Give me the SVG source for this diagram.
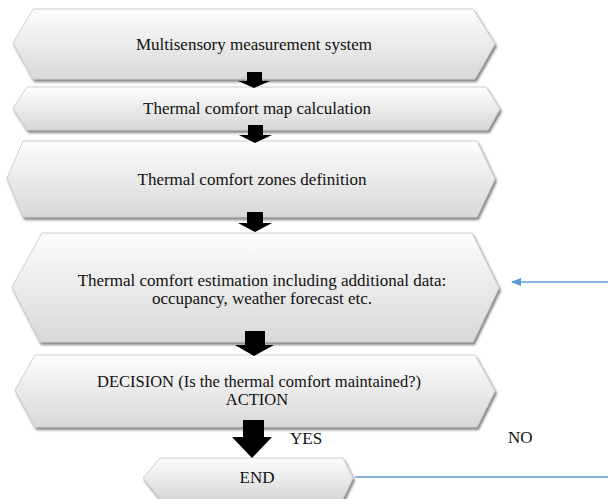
<svg xmlns="http://www.w3.org/2000/svg" width="608" height="499" viewBox="0 0 608 499">
  <defs>
    <linearGradient id="g" x1="0" y1="0" x2="0" y2="1">
      <stop offset="0" stop-color="#fdfdfd"/>
      <stop offset="1" stop-color="#d8d8d8"/>
    </linearGradient>
    <filter id="sh" x="-5%" y="-10%" width="110%" height="130%">
      <feDropShadow dx="1.5" dy="2.5" stdDeviation="0.8" flood-color="#6e6e6e" flood-opacity="0.85"/>
    </filter>
    <marker id="ah" markerWidth="10" markerHeight="8" refX="9" refY="4" orient="auto" markerUnits="userSpaceOnUse">
      <path d="M0,0 L10,4 L0,8 Z" fill="#5b9bd5"/>
    </marker>
  </defs>
  <style>
    .box { fill: url(#g); stroke: #cfcfcf; stroke-width: 1; filter: url(#sh); }
    .t { font-family: "Liberation Serif", "Times New Roman", serif; font-size: 17px; fill: #111; text-anchor: middle; }
    .t2 { font-size: 16.5px; }
    .lbl { font-family: "Liberation Serif", "Times New Roman", serif; font-size: 17px; fill: #111; }
    .blk { fill: #000; }
    .blue { stroke: #5b9bd5; stroke-width: 1.3; fill: none; }
  </style>

  <g id="node-measurement">
    <polygon class="box" points="33,9 473,9 495,44 475,79 33,79 13,43"/>
    <text class="t" x="254" y="50">Multisensory measurement system</text>
  </g>
  <g id="node-map">
    <polygon class="box" points="27,87 486,87 500,109 488,130 27,130 13,108"/>
    <text class="t" x="257" y="114">Thermal comfort map calculation</text>
  </g>
  <g id="node-zones">
    <polygon class="box" points="23,141 477,141 495,179 477,217 23,217 7,178"/>
    <text class="t" x="252" y="185">Thermal comfort zones definition</text>
  </g>
  <g id="node-estimation">
    <polygon class="box" points="42,233 472,233 499,288 473,342 40,342 12,287"/>
    <text class="t" x="262" y="286">Thermal comfort estimation including additional data:</text>
    <text class="t" x="262" y="304">occupancy, weather forecast etc.</text>
  </g>
  <g id="node-decision">
    <polygon class="box" points="35,355 475,355 495,391 477,427 35,427 15,390"/>
    <text class="t t2" x="259" y="387">DECISION (Is the thermal comfort maintained?)</text>
    <text class="t t2" x="257" y="405">ACTION</text>
  </g>
  <g id="node-end">
    <polygon class="box" points="160,458 343,458 353,478 343,499 160,499 143,478"/>
    <text class="t" x="257" y="483">END</text>
  </g>

  <g id="connectors">
    <polygon class="blk" points="247,72 262,72 262,81 270,81 254,88 238,81 247,81"/>
    <polygon class="blk" points="248,125 263,125 263,135 272,135 255,143 239,135 248,135"/>
    <polygon class="blk" points="247,212 263,212 263,223 272,223 255,232 238,223 247,223"/>
    <polygon class="blk" points="245,331 265,331 265,345 274,345 254,356 235,345 245,345"/>
    <polygon class="blk" points="243,420 264,420 264,437 272,437 252,458 232,437 243,437"/>
    <line class="blue" x1="608" y1="282" x2="512" y2="282" marker-end="url(#ah)"/>
    <line class="blue" x1="355" y1="477" x2="608" y2="477"/>
    <text class="lbl" x="290" y="444">YES</text>
    <text class="lbl" x="508" y="443">NO</text>
  </g>
</svg>
